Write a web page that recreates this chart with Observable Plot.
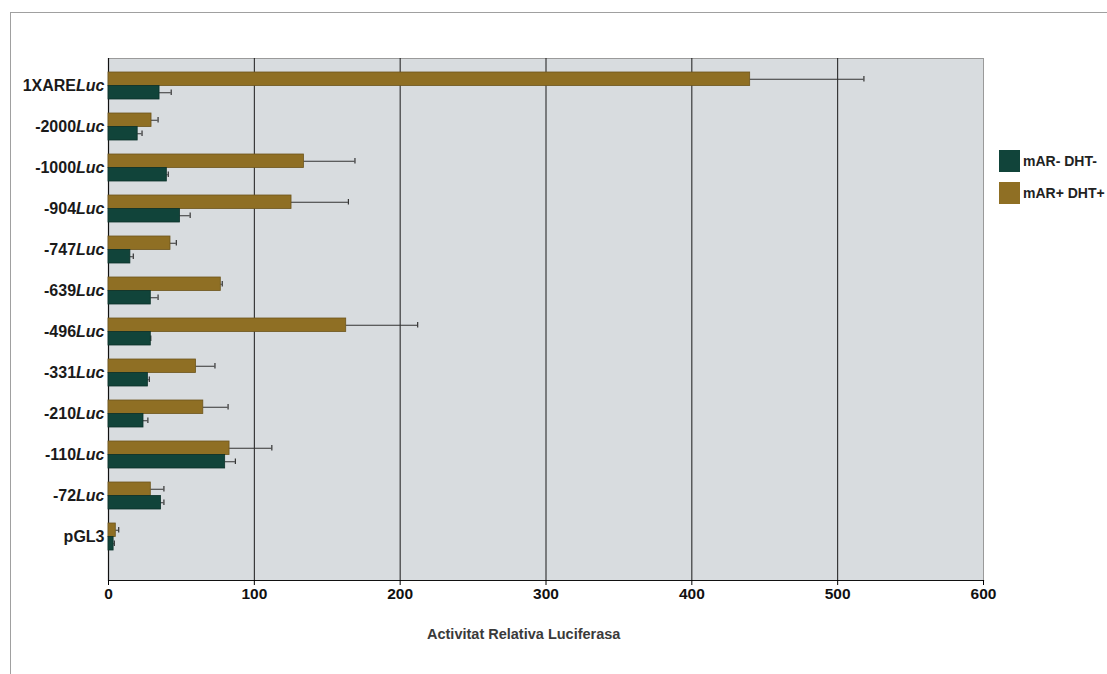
<!DOCTYPE html>
<html>
<head>
<meta charset="utf-8">
<script src="https://cdn.jsdelivr.net/npm/d3@7"></script>
<script src="https://cdn.jsdelivr.net/npm/@observablehq/plot@0.6"></script>
<style>
  html, body { margin: 0; padding: 0; background: #fff; width: 1107px; height: 674px; overflow: hidden; }
  body { position: relative; font-family: "Liberation Sans", Arial, sans-serif; }
  #border { position: absolute; left: 10px; top: 12px; right: -5px; bottom: -5px; border-top: 1px solid #a0a0a0; border-left: 1px solid #a0a0a0; }
  #chart { position: absolute; left: 0; top: 0; }
  #xlabel { position: absolute; left: 427px; top: 626px; font-weight: bold; font-size: 14.5px; color: #3a3a3a; white-space: nowrap; }
  .leg { position: absolute; left: 999px; display: flex; align-items: center; white-space: nowrap; font-weight: bold; font-size: 14px; color: #222; }
  .leg span.sw { display: inline-block; width: 21px; height: 22px; margin-right: 3px; }
</style>
</head>
<body>
<div id="border"></div>
<div id="chart"></div>
<div id="xlabel">Activitat Relativa Luciferasa</div>
<div class="leg" style="top:150px"><span class="sw" style="background:#11443a"></span>mAR- DHT-</div>
<div class="leg" style="top:182px"><span class="sw" style="background:#8f6f24"></span>mAR+ DHT+</div>
<script>
const prefixes = ["1XARE", "-2000", "-1000", "-904", "-747", "-639", "-496", "-331", "-210", "-110", "-72", "pGL3"];
const suffixes = ["Luc", "Luc", "Luc", "Luc", "Luc", "Luc", "Luc", "Luc", "Luc", "Luc", "Luc", ""];
const categories = prefixes.map((p, i) => p + suffixes[i]);
// mAR- DHT- (green)
const greenVals = [35, 20, 40, 49, 15, 29, 29, 27, 24, 80, 36, 3.5];
const greenErr  = [8, 3, 1, 7, 2, 5, 0, 1, 3, 7, 2, 0.5];
// mAR+ DHT+ (gold)
const goldVals  = [440, 29.5, 134, 125.5, 42.5, 77, 163, 60, 65, 83, 29, 5];
const goldErr   = [78, 4.5, 35, 39, 4, 1, 49, 13, 17, 29, 9, 2];
const xTicks = [0, 100, 200, 300, 400, 500, 600];
const gridVals = [100, 200, 300, 400, 500];

const green = "#11443a", gold = "#8f6f24";
const gData = categories.map((c, i) => ({cat: c, v: greenVals[i], e: greenErr[i]}));
const oData = categories.map((c, i) => ({cat: c, v: goldVals[i], e: goldErr[i]}));
const half = 13.5;

const chart = Plot.plot({
  width: 1107,
  height: 674,
  marginLeft: 108,
  marginRight: 124,
  marginTop: 58,
  marginBottom: 94,
  style: {fontFamily: "'Liberation Sans', Arial, sans-serif", background: "transparent"},
  x: {domain: [0, 600], ticks: xTicks, label: null},
  y: {type: "band", domain: categories, range: [69.5, 553], paddingInner: 0.35, paddingOuter: 0, label: null},
  marks: [
    Plot.frame({fill: "#d8dcdf", stroke: "#9a9a9a"}),
    Plot.ruleX(gridVals, {stroke: "#1a1a1a", strokeWidth: 1}),
    Plot.ruleX([0], {stroke: "#111", strokeWidth: 1.2}),
    Plot.frame({anchor: "bottom", stroke: "#111", strokeWidth: 1.2}),
    // error bars
    Plot.ruleY(oData, {y: "cat", x1: "v", x2: d => d.v + d.e, dy: -half / 2, stroke: "#333", strokeWidth: 1}),
    Plot.tickX(oData, {y: "cat", x: d => d.v + d.e, insetTop: 4, insetBottom: half + 4, stroke: "#333", strokeWidth: 1.2}),
    Plot.ruleY(gData, {y: "cat", x1: "v", x2: d => d.v + d.e, dy: half / 2, stroke: "#333", strokeWidth: 1}),
    Plot.tickX(gData, {y: "cat", x: d => d.v + d.e, insetTop: half + 4, insetBottom: 4, stroke: "#333", strokeWidth: 1.2}),
    // bars
    Plot.barX(oData, {y: "cat", x: "v", fill: gold, stroke: "#6d551c", strokeWidth: 0.8, insetBottom: half}),
    Plot.barX(gData, {y: "cat", x: "v", fill: green, stroke: "#0b3028", strokeWidth: 0.8, insetTop: half}),
    Plot.axisX({ticks: xTicks, tickSize: 5, tickPadding: 2, fontSize: 15.5, fontWeight: "bold", fill: "#111", label: null}),
    Plot.axisY({tickSize: 0, tickPadding: 4, fontSize: 16, fontWeight: "bold", fill: "#1a1a1a", label: null})
  ]
});
document.getElementById("chart").appendChild(chart);

// italicise the "Luc" suffix in the category labels
d3.select(chart).selectAll("[aria-label='y-axis tick label'] text").each(function() {
  const t = d3.select(this);
  const s = t.text();
  const i = categories.indexOf(s);
  if (i >= 0 && suffixes[i]) {
    t.text(null);
    t.append("tspan").text(prefixes[i]);
    t.append("tspan").attr("font-style", "italic").text(suffixes[i]);
  }
});
</script>
</body>
</html>
